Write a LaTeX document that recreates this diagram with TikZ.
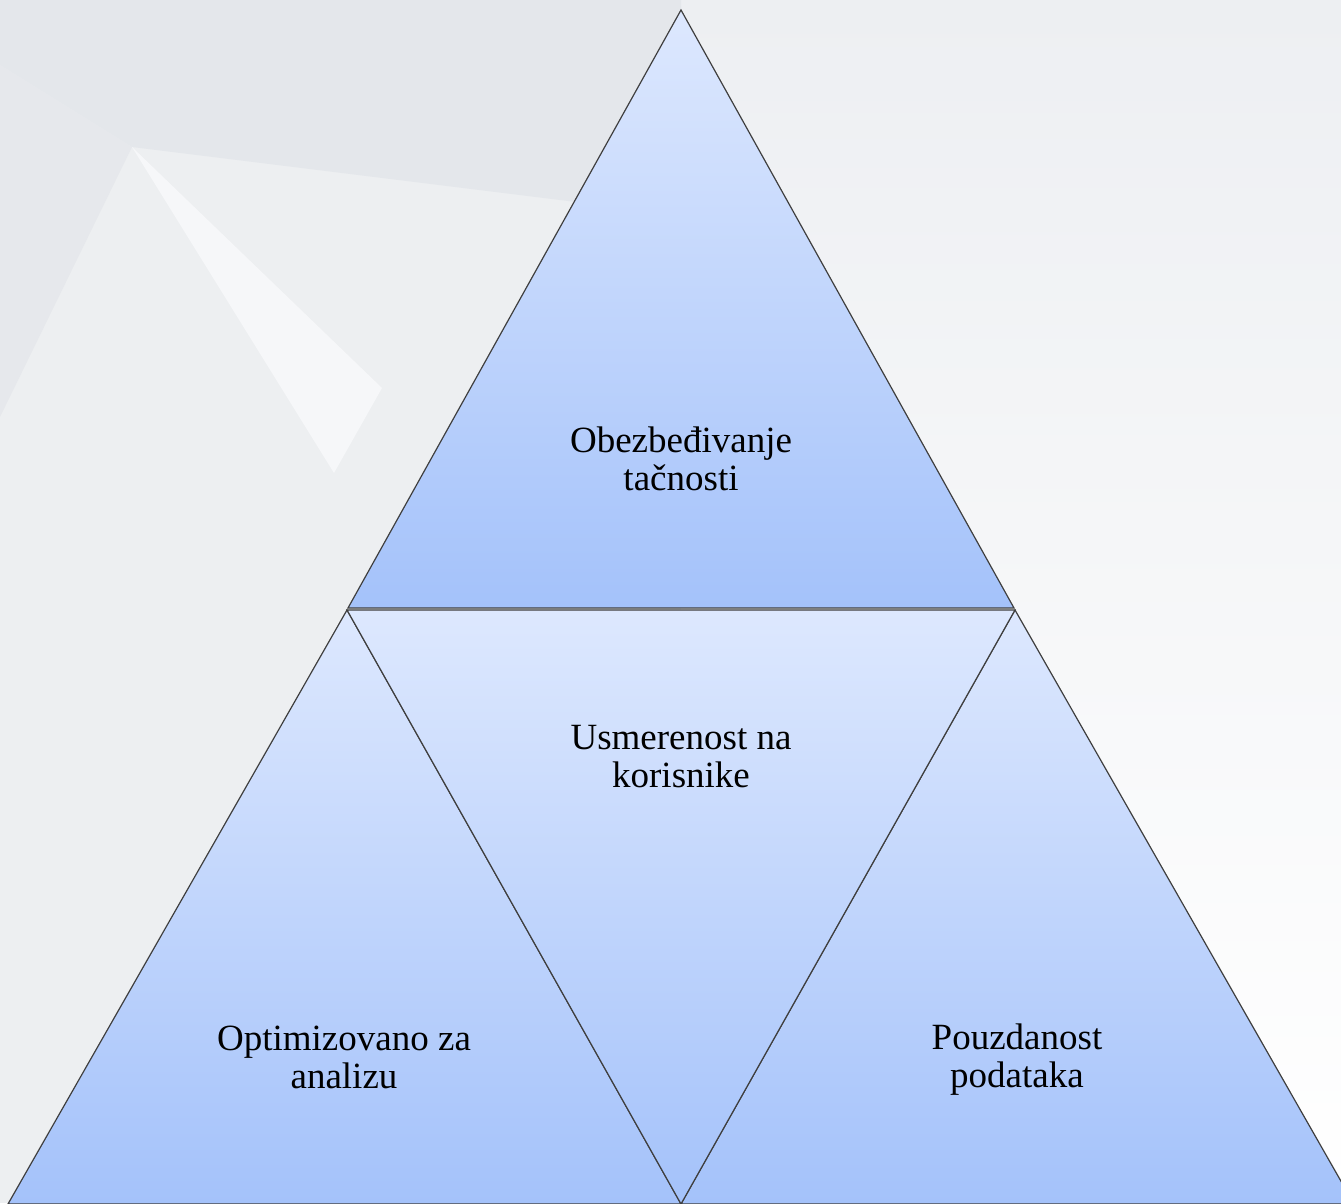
\documentclass[tikz,border=0pt]{standalone}
\usepackage{fontspec}
\setmainfont{Liberation Serif}
\definecolor{triTop}{HTML}{DDE8FE}
\definecolor{triBot}{HTML}{A4C2FA}
\definecolor{edgeGray}{HTML}{3F3F3F}
\tikzset{
  tri/.style={draw=edgeGray,line width=1.2pt,line join=miter,top color=triTop,bottom color=triBot},
  lbl/.style={align=center,font=\fontsize{37}{38}\selectfont,text=black}
}

\begin{document}
\begin{tikzpicture}[x=1pt,y=1pt]
        \useasboundingbox (0,0) rectangle (1341,1203);
        \clip (0,0) rectangle (1341,1203);

        \fill[color={rgb,255:red,237;green,239;blue,241}] (0,0) rectangle (681,1203);
        \shade[top color={rgb,255:red,237;green,239;blue,242},bottom color=white] (681,0) rectangle (1341,1203);
        \fill[color={rgb,255:red,228;green,231;blue,235}] (0,1203) -- (681,1203) -- (681,988) -- (132,1056) -- (0,1138) -- cycle;
        \fill[color={rgb,255:red,230;green,232;blue,236}] (0,1138) -- (132,1056) -- (0,786) -- cycle;
        \fill[color={rgb,255:red,246;green,247;blue,249}] (132,1056) -- (382,815) -- (334,730) -- cycle;

        \coordinate (T)  at (681,1193);
        \coordinate (TL) at (348,595);
        \coordinate (TR) at (1014,595);
        \coordinate (LA) at (347,593);
        \coordinate (RA) at (1015,593);
        \coordinate (MB) at (681,-1);
        \coordinate (LL) at (8,-1);
        \coordinate (RR) at (1354,-1);

        \draw[tri] (T) -- (TR) -- (TL) -- cycle;
        \draw[tri] (LA) -- (MB) -- (LL) -- cycle;
        \draw[tri] (RA) -- (RR) -- (MB) -- cycle;
        \draw[tri] (LA) -- (RA) -- (MB) -- cycle;

        \node[lbl] (accuracy)    at (681,744) {Obezbeđivanje\\tačnosti};
        \node[lbl] (users)       at (681,446) {Usmerenost na\\korisnike};
        \node[lbl] (analysis)    at (344,146) {Optimizovano za\\analizu};
        \node[lbl] (reliability) at (1017,143) {Pouzdanost\\podataka};
    \end{tikzpicture}
\end{document}
